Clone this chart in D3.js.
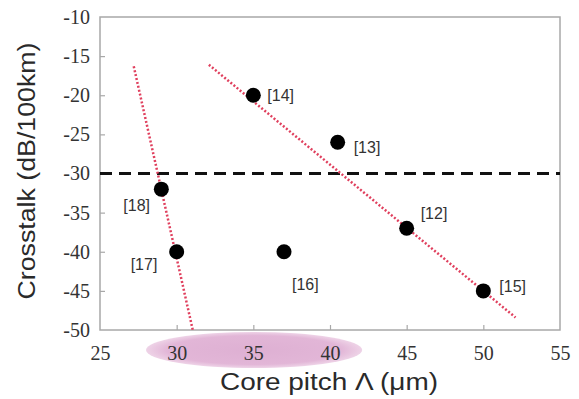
<!DOCTYPE html>
<html>
<head>
<meta charset="utf-8">
<script src="https://cdn.jsdelivr.net/npm/d3@7"></script>
<style>
  body { margin: 0; background: #fff; }
</style>
</head>
<body>
<div id="chart"></div>
<script>
// data
const refs = ["[14]", "[13]", "[18]", "[17]", "[16]", "[12]", "[15]"];
const pitch = [35, 40.5, 29, 30, 37, 45, 50];
const crosstalk = [-20, -26, -32, -40, -40, -37, -45];
const trendA = [[27.2, -16.3], [31.05, -50]];
const trendB = [[32.1, -16.1], [52.1, -48.4]];
const threshold = -30;
const xTicks = [25, 30, 35, 40, 45, 50, 55];
const yTicks = [-10, -15, -20, -25, -30, -35, -40, -45, -50];

// label offsets from the point (px)
const labelOff = [[14, 0], [16, 5], [-38, 16], [-46, 13], [8, 33], [14, -15], [16, -4]];

const W = 579, H = 399, M = {t: 17, r: 19, b: 69, l: 100};

const svg = d3.select("#chart").append("svg")
  .attr("width", W)
  .attr("height", H);

const x = d3.scaleLinear().domain([25, 55]).range([M.l, W - M.r]);
const y = d3.scaleLinear().domain([-50, -10]).range([H - M.b, M.t]);

// pink highlight under the x axis
const grad = svg.append("defs").append("radialGradient").attr("id", "pinkGlow");
grad.append("stop").attr("offset", "0%").attr("stop-color", "#deb0d3");
grad.append("stop").attr("offset", "80%").attr("stop-color", "#e2b6d7");
grad.append("stop").attr("offset", "100%").attr("stop-color", "#eed3e7");
svg.append("ellipse")
  .attr("cx", (x(28.0) + x(42.1)) / 2)
  .attr("cy", 350)
  .attr("rx", (x(42.1) - x(28.0)) / 2)
  .attr("ry", 18)
  .attr("fill", "url(#pinkGlow)");

// frame
svg.append("rect")
  .attr("x", M.l).attr("y", M.t)
  .attr("width", W - M.r - M.l).attr("height", H - M.b - M.t)
  .attr("fill", "none")
  .attr("stroke", "#a8a8a8")
  .attr("stroke-width", 1.5);

const serif = "'Liberation Serif', 'DejaVu Serif', serif";
const sans = "'Liberation Sans', Arial, sans-serif";

const xAxis = svg.append("g")
  .attr("transform", `translate(0,${H - M.b})`)
  .call(d3.axisBottom(x).tickValues(xTicks).tickFormat(d => String(d))
    .tickSizeInner(-5).tickSizeOuter(0));
const yAxis = svg.append("g")
  .attr("transform", `translate(${M.l},0)`)
  .call(d3.axisLeft(y).tickValues(yTicks).tickFormat(d => String(d))
    .tickSizeInner(-5).tickSizeOuter(0).tickPadding(10));

[xAxis, yAxis].forEach(g => {
  g.select(".domain").remove();
  g.selectAll(".tick line").attr("stroke", "#a8a8a8").attr("stroke-width", 1.2);
  g.selectAll(".tick text")
    .attr("fill", "#333")
    .style("font-family", serif)
    .style("font-size", "20px");
});
xAxis.selectAll(".tick text").attr("dy", "0.35em").attr("y", 23);
xAxis.selectAll(".tick line").filter(d => d === 25 || d === 55).remove();
yAxis.selectAll(".tick line").filter(d => d === -10 || d === -50).remove();

// threshold dashed line
svg.append("line")
  .attr("x1", x(25)).attr("x2", x(55))
  .attr("y1", y(threshold)).attr("y2", y(threshold))
  .attr("stroke", "#111")
  .attr("stroke-width", 3)
  .attr("stroke-dasharray", "12,7");

// dotted trend lines
const line = d3.line().x(d => x(d[0])).y(d => y(d[1]));
[trendA, trendB].forEach(t => {
  svg.append("path")
    .attr("d", line(t))
    .attr("fill", "none")
    .attr("stroke", "#e0405e")
    .attr("stroke-width", 2.5)
    .attr("stroke-dasharray", "2,2");
});

// points
const pts = refs.map((r, i) => ({ ref: r, x: pitch[i], y: crosstalk[i], off: labelOff[i] }));
svg.selectAll("circle.pt")
  .data(pts)
  .enter()
  .append("circle")
  .attr("class", "pt")
  .attr("cx", d => x(d.x))
  .attr("cy", d => y(d.y))
  .attr("r", 7.5)
  .attr("fill", "#000");

svg.selectAll("text.ref")
  .data(pts)
  .enter()
  .append("text")
  .attr("class", "ref")
  .attr("x", d => x(d.x) + d.off[0])
  .attr("y", d => y(d.y) + d.off[1])
  .attr("dy", "0.35em")
  .attr("fill", "#333")
  .style("font-family", sans)
  .style("font-size", "16px")
  .text(d => d.ref);

// axis titles
svg.append("text")
  .attr("transform", `translate(35,171) rotate(-90)`)
  .attr("text-anchor", "middle")
  .attr("fill", "#2a2a2a")
  .attr("textLength", 257)
  .attr("lengthAdjust", "spacingAndGlyphs")
  .style("font-family", sans)
  .style("font-size", "23px")
  .text("Crosstalk (dB/100km)");

svg.append("text")
  .attr("x", 329)
  .attr("y", 390)
  .attr("text-anchor", "middle")
  .attr("fill", "#2a2a2a")
  .attr("textLength", 218)
  .attr("lengthAdjust", "spacingAndGlyphs")
  .style("font-family", sans)
  .style("font-size", "23px")
  .text("Core pitch \u039B (\u03BCm)");
</script>
</body>
</html>
